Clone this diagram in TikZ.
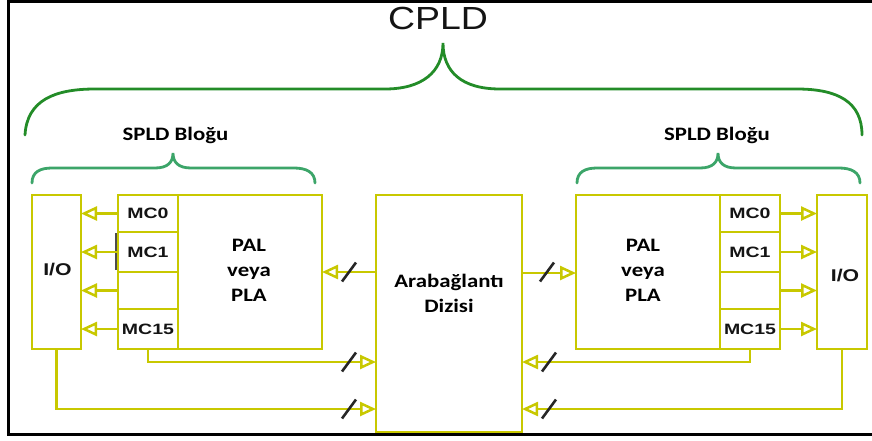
\documentclass[tikz,border=0pt]{standalone}
\usepackage{fontspec}
\usepackage{graphicx}
\setmainfont{Liberation Sans}
\newfontfamily\calib{Carlito}
\usetikzlibrary{arrows.meta}

\definecolor{wire}{RGB}{200,200,0}
\definecolor{cpldgreen}{RGB}{35,140,40}
\definecolor{spldgreen}{RGB}{60,165,105}
\definecolor{ink}{RGB}{20,20,20}

% horizontally widened text
\newcommand{\wide}[2]{\scalebox{#1}[1]{#2}}

\begin{document}
\begin{tikzpicture}[x=1pt,y=-1pt,
  blk/.style={draw=wire, line width=2.5pt, anchor=north west, inner sep=0pt, outer sep=0pt},
  mccell/.style={blk, minimum width=60pt, text=ink,
    font=\fontsize{15}{16}\selectfont\bfseries},
  sig/.style={draw=wire, line width=2.5pt,
    -{Triangle[open, length=16pt, width=14pt]}},
  slashmark/.style={draw=black!85, line width=2.6pt},
  busmark/.pic={\draw[slashmark] (-7,9.5) -- (7,-9.5);},
  iotext/.style={text=ink, font=\fontsize{17}{19}\selectfont\bfseries, anchor=base},
  caltext/.style={text=black, font=\calib\fontsize{19}{25}\selectfont\bfseries, align=center},
  cpldbrace/.style={draw=cpldgreen, line width=2.8pt, line cap=round},
  spldbrace/.style={draw=spldgreen, line width=2.8pt, line cap=round},
  spldcurl/.pic={\draw[spldbrace] (0,0) .. controls (0,-11) and (8,-15) .. (20,-15)
      -- (123,-15) .. controls (136,-15) and (141,-21) .. (141,-30)
      .. controls (141,-21) and (146,-15) .. (159,-15)
      -- (262,-15) .. controls (274,-15) and (283,-11) .. (283,0);}
]
\useasboundingbox (0,0) rectangle (872,440);

% frame
\draw[black, line width=3pt] (872,1.5) -- (8.5,1.5) -- (8.5,434.5) -- (872,434.5);

% top-level brace and title
\draw[cpldbrace] (25,135) .. controls (27,100) and (55,89) .. (95,89)
  -- (385,89) .. controls (422,89) and (443,72) .. (443,43)
  .. controls (443,72) and (462,89) .. (500,89)
  -- (797,89) .. controls (838,89) and (862,102) .. (862,135);
\node[anchor=base, text=ink, font=\fontsize{32}{36}\selectfont] (cpld) at (438,29) {\wide{1.17}{CPLD}};

% block braces
\pic at (32,183) {spldcurl};
\pic at (577,183) {spldcurl};
\node[caltext, anchor=base] (lspld) at (175.5,140) {\wide{1.2}{SPLD Bloğu}};
\node[caltext, anchor=base] (rspld) at (717,140) {\wide{1.2}{SPLD Bloğu}};

% left SPLD block
\node[blk, minimum width=49pt, minimum height=154pt] (lio) at (32,195) {};
\node[iotext] (liot) at (57.5,275) {\wide{1.25}{I/O}};
\node[mccell, minimum height=37pt] (lmc0) at (118,195) {\wide{1.3}{MC0}};
\node[mccell, minimum height=40pt] (lmc1) at (118,232) {\wide{1.3}{MC1}};
\node[mccell, minimum height=37pt] (lmcx) at (118,272) {};
\node[mccell, minimum height=40pt] (lmc15) at (118,309) {\wide{1.3}{MC15}};
\node[blk, minimum width=144pt, minimum height=154pt] (lpal) at (178,195) {};
\node[caltext] (lpalt) at (249,270) {\wide{1.2}{PAL}\\\wide{1.2}{veya}\\\wide{1.2}{PLA}};
\draw[gray!60!black, line width=1.2pt] (116,233) -- (116,270);

% interconnect array
\node[blk, minimum width=146pt, minimum height=237pt] (icon) at (376,195) {};
\node[caltext] (icont) at (449,293) {\wide{1.2}{Arabağlantı}\\\wide{1.2}{Dizisi}};

% right SPLD block
\node[blk, minimum width=144pt, minimum height=154pt] (rpal) at (576,195) {};
\node[caltext] (rpalt) at (643,270) {\wide{1.2}{PAL}\\\wide{1.2}{veya}\\\wide{1.2}{PLA}};
\node[mccell, minimum height=37pt] (rmc0) at (720,195) {\wide{1.3}{MC0}};
\node[mccell, minimum height=40pt] (rmc1) at (720,232) {\wide{1.3}{MC1}};
\node[mccell, minimum height=37pt] (rmcx) at (720,272) {};
\node[mccell, minimum height=40pt] (rmc15) at (720,309) {\wide{1.3}{MC15}};
\node[blk, minimum width=50pt, minimum height=154pt] (rio) at (817,195) {};
\node[iotext] (riot) at (845,281) {\wide{1.25}{I/O}};

% macrocell outputs to I/O
\foreach \c in {lmc0,lmc1,lmcx,lmc15}
  \draw[sig] (\c.west) -- (lio.east |- \c.west);
\foreach \c in {rmc0,rmc1,rmcx,rmc15}
  \draw[sig] (\c.east) -- (rio.west |- \c.east);

% buses between blocks and interconnect
\draw[sig] (icon.west |- 0,272) -- (lpal.east |- 0,272);
\draw[sig] (lmc15.south) |- (icon.west |- 0,362);
\draw[sig] (lio.south) |- (icon.west |- 0,409);
\draw[sig] (icon.east |- 0,273) -- (rpal.west |- 0,273);
\draw[sig] (rmc15.south) |- (icon.east |- 0,362);
\draw[sig] (rio.south) |- (icon.east |- 0,409);

% bus width marks
\pic at (349,272) {busmark};
\pic at (349,362) {busmark};
\pic at (349,409) {busmark};
\pic at (547,272) {busmark};
\pic at (549,362) {busmark};
\pic at (549,409) {busmark};
\end{tikzpicture}
\end{document}
